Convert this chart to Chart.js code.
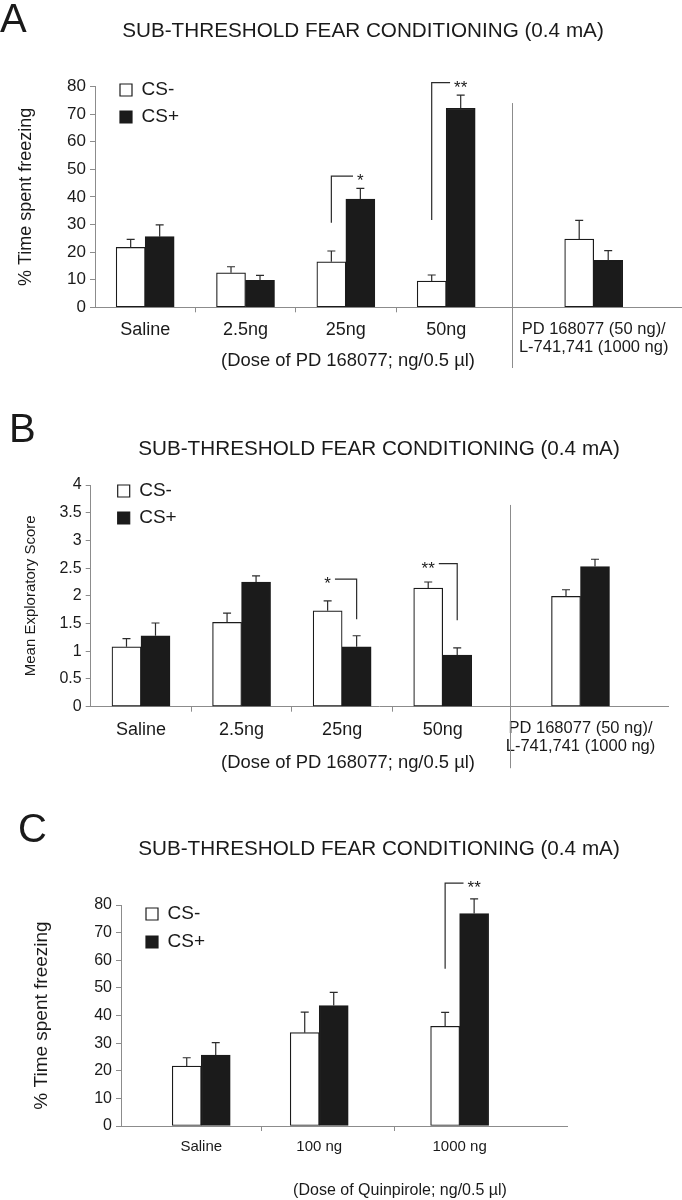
<!DOCTYPE html>
<html>
<head>
<meta charset="utf-8">
<title>Sub-threshold fear conditioning</title>
<script src="https://cdn.jsdelivr.net/npm/chart.js@4.4.1/dist/chart.umd.min.js"></script>
<style>
  html, body { margin: 0; padding: 0; background: #fff; }
  body { width: 682px; height: 1200px; position: relative; overflow: hidden;
         font-family: "Liberation Sans", Arial, Helvetica, sans-serif; color: #1a1a1a; }
  .panel { position: absolute; left: 0; width: 682px; }
  .txt { position: absolute; white-space: nowrap; line-height: 1; }
  .mid { transform: translate(-50%, -50%); }
  .letter { font-size: 40px; }
  .title { font-size: 20.7px; }
</style>
</head>
<body>
<div class="panel" style="top:0; height:385px"><canvas id="chartA"></canvas></div>
<div class="panel" style="top:385px; height:400px"><canvas id="chartB"></canvas></div>
<div class="panel" style="top:785px; height:415px"><canvas id="chartC"></canvas></div>

<div class="txt letter" style="left:0; top:-2px">A</div>
<div class="txt title mid" style="left:363px; top:30px">SUB-THRESHOLD FEAR CONDITIONING (0.4 mA)</div>
<div class="txt mid" style="left:348px; top:360px; font-size:18.4px">(Dose of PD 168077; ng/0.5 µl)</div>

<div class="txt letter" style="left:9px; top:408px">B</div>
<div class="txt title mid" style="left:379px; top:448px">SUB-THRESHOLD FEAR CONDITIONING (0.4 mA)</div>
<div class="txt mid" style="left:348px; top:762px; font-size:18.4px">(Dose of PD 168077; ng/0.5 µl)</div>

<div class="txt letter" style="left:18px; top:808px">C</div>
<div class="txt title mid" style="left:379px; top:848px">SUB-THRESHOLD FEAR CONDITIONING (0.4 mA)</div>
<div class="txt mid" style="left:400px; top:1190px; font-size:16px">(Dose of Quinpirole; ng/0.5 µl)</div>

<script>
// --- data ---
const seriesNames = ["CS-", "CS+"];
const dosesPD = ["Saline", "2.5ng", "25ng", "50ng", ["PD 168077 (50 ng)/", "L-741,741 (1000 ng)"]];
const dosesQuin = ["Saline", "100 ng", "1000 ng"];

// A: % time spent freezing (PD 168077)
const freezePD_minus = [21.7, 12.5, 16.5, 9.5, 24.7];
const freezePD_minusSem = [2.9, 2.2, 3.9, 2.2, 6.8];
const freezePD_plus = [25.6, 9.8, 39.2, 72.1, 17.0];
const freezePD_plusSem = [4.3, 1.8, 3.9, 4.8, 3.5];

// B: mean exploratory score (PD 168077)
const explorePD_minus = [1.08, 1.52, 1.73, 2.14, 1.99];
const explorePD_minusSem = [0.15, 0.17, 0.18, 0.11, 0.12];
const explorePD_plus = [1.28, 2.25, 1.08, 0.93, 2.53];
const explorePD_plusSem = [0.23, 0.11, 0.20, 0.13, 0.13];

// C: % time spent freezing (quinpirole)
const freezeQuin_minus = [21.7, 33.8, 36.1];
const freezeQuin_minusSem = [3.0, 7.4, 5.0];
const freezeQuin_plus = [25.7, 43.6, 76.9];
const freezeQuin_plusSem = [4.5, 4.8, 5.3];

// y tick labels
const freezeTicks = [0, 10, 20, 30, 40, 50, 60, 70, 80];
const exploreTicks = [0, 0.5, 1, 1.5, 2, 2.5, 3, 3.5, 4];

// significance marks (group index, label, bracket bottom / top in axis units)
const sigA = [{ group: 2, text: "*", low: 30.6, high: 47.5 }, { group: 3, text: "**", low: 31.6, high: 81.4 }];
const sigB = [{ group: 2, text: "*", low: 1.58, high: 2.30 }, { group: 3, text: "**", low: 1.56, high: 2.58 }];
const sigC = [{ group: 2, text: "**", low: 56.9, high: 87.9 }];

const FONT = '"Liberation Sans", Arial, Helvetica, sans-serif';
const INK = "#1a1a1a";
const AXIS = "#8c8c8c";

// error bars, brackets, divider, legend placement
function annotations(p) {
  return {
    id: "annotations",
    afterLayout(chart) {
      // vertical legends get top = 0 from Chart.js, so pin it to the plot area
      chart.legend.left = chart.chartArea.left + p.legendShift[0];
      chart.legend.top = chart.chartArea.top + p.legendShift[1];
    },
    afterDatasetsDraw(chart) {
      const { ctx, scales: { x, y } } = chart;
      ctx.save();
      ctx.strokeStyle = "#2b2b2b";
      ctx.lineWidth = 1.2;

      // upper error bars only
      chart.data.datasets.forEach((ds, d) => {
        chart.getDatasetMeta(d).data.forEach((bar, i) => {
          const top = y.getPixelForValue(ds.data[i].y + ds.errors[i]);
          ctx.beginPath();
          ctx.moveTo(bar.x, bar.y);
          ctx.lineTo(bar.x, top);
          ctx.moveTo(bar.x - 4, top);
          ctx.lineTo(bar.x + 4, top);
          ctx.stroke();
        });
      });

      // brackets with stars
      ctx.font = "17px " + FONT;
      ctx.fillStyle = INK;
      ctx.textAlign = "center";
      ctx.textBaseline = "alphabetic";
      p.sig.forEach((s) => {
        const drop = chart.getDatasetMeta(p.dropOn).data[s.group];
        const mark = chart.getDatasetMeta(1 - p.dropOn).data[s.group];
        const yLow = y.getPixelForValue(s.low);
        const yHigh = y.getPixelForValue(s.high);
        const half = ctx.measureText(s.text).width / 2;
        const end = drop.x < mark.x ? mark.x - half - 4 : mark.x + half + 4;
        ctx.beginPath();
        ctx.moveTo(drop.x, yLow);
        ctx.lineTo(drop.x, yHigh);
        ctx.lineTo(end, yHigh);
        ctx.stroke();
        ctx.fillText(s.text, mark.x, yHigh + 10);
      });

      // vertical divider before the combined-treatment group
      if (p.divider) {
        const dx = Math.round(x.getPixelForValue(p.divider.at)) + 0.5;
        ctx.strokeStyle = AXIS;
        ctx.lineWidth = 1;
        ctx.beginPath();
        ctx.moveTo(dx, y.getPixelForValue(p.divider.from));
        ctx.lineTo(dx, y.getPixelForValue(p.divider.to));
        ctx.stroke();
      }
      ctx.restore();
    }
  };
}

function makePanel(id, p) {
  const labelFor = (v) => {
    const i = p.pos.indexOf(v);
    return i >= 0 ? p.groups[i] : "";
  };
  return new Chart(document.getElementById(id), {
    type: "bar",
    data: {
      datasets: seriesNames.map((name, d) => ({
        label: name,
        data: p.values[d].map((v, i) => ({ x: p.pos[i], y: v })),
        errors: p.sems[d],
        backgroundColor: d === 0 ? "#ffffff" : "#1b1b1b",
        borderColor: "#1b1b1b",
        borderWidth: 1.2,
        borderSkipped: false,
        barThickness: 29
      }))
    },
    options: {
      responsive: true,
      maintainAspectRatio: false,
      animation: false,
      layout: { padding: { top: p.padTop, left: 0, right: p.padRight, bottom: 0 } },
      plugins: {
        legend: {
          position: "chartArea",
          align: "start",
          labels: {
            color: INK,
            font: { family: FONT, size: 19 },
            boxWidth: 12,
            boxHeight: 12,
            padding: p.legendGap
          }
        },
        tooltip: { enabled: false }
      },
      scales: {
        x: {
          type: "linear",
          min: p.xMin,
          max: p.xMax,
          offset: false,
          afterBuildTicks: (s) => {
            s.ticks = [...p.pos, ...p.edges].sort((a, b) => a - b).map((v) => ({ value: v }));
          },
          afterFit: (s) => { s.height = p.xAxisHeight; },
          ticks: {
            autoSkip: false,
            maxRotation: 0,
            minRotation: 0,
            padding: 8,
            color: INK,
            font: (c) => ({ family: FONT, size: c.tick && Array.isArray(labelFor(c.tick.value)) ? p.catFont - 1.5 : p.catFont, lineHeight: 1.1 }),
            callback: (v) => labelFor(v)
          },
          grid: {
            offset: false,
            drawOnChartArea: false,
            tickLength: 5,
            color: (c) => (c.tick && p.edges.includes(c.tick.value) ? AXIS : "rgba(0,0,0,0)")
          },
          border: { color: AXIS, width: 1 }
        },
        y: {
          min: p.yTicks[0],
          max: p.yTicks[p.yTicks.length - 1],
          afterBuildTicks: (s) => { s.ticks = p.yTicks.map((v) => ({ value: v })); },
          afterFit: (s) => { s.width = p.yAxisWidth; },
          ticks: { padding: 4, color: INK, font: { family: FONT, size: p.yFont }, callback: (v) => String(v) },
          grid: { drawOnChartArea: false, tickLength: 5, color: AXIS },
          border: { color: AXIS, width: 1 },
          title: {
            display: true,
            text: p.yTitle,
            color: INK,
            font: { family: FONT, size: p.yTitleFont },
            padding: { top: p.yTitlePad, bottom: 0 }
          }
        }
      }
    },
    plugins: [annotations(p)]
  });
}

makePanel("chartA", {
  groups: dosesPD,
  values: [freezePD_minus, freezePD_plus],
  sems: [freezePD_minusSem, freezePD_plusSem],
  yTicks: freezeTicks,
  sig: sigA,
  dropOn: 0,
  pos: [1, 2, 3, 4, 5.47],
  edges: [1.5, 2.5, 3.5],
  xMin: 0.5, xMax: 6.35,
  padTop: 86.5, padRight: 0,
  yAxisWidth: 95, xAxisHeight: 77.7,
  yTitle: "% Time spent freezing", yTitleFont: 18, yTitlePad: 15,
  yFont: 17, catFont: 18,
  legendGap: 8, legendShift: [17, -14],
  divider: { at: 4.66, from: 74, to: -22 }
});

makePanel("chartB", {
  groups: dosesPD,
  values: [explorePD_minus, explorePD_plus],
  sems: [explorePD_minusSem, explorePD_plusSem],
  yTicks: exploreTicks,
  sig: sigB,
  dropOn: 1,
  pos: [1, 2, 3, 4, 5.37],
  edges: [1.5, 2.5, 3.5],
  xMin: 0.5, xMax: 6.24,
  padTop: 100, padRight: 14,
  yAxisWidth: 90.7, xAxisHeight: 78.3,
  yTitle: "Mean Exploratory Score", yTitleFont: 15, yTitlePad: 22,
  yFont: 16, catFont: 18,
  legendGap: 8, legendShift: [19, -11.5],
  divider: { at: 4.67, from: 3.64, to: -1.11 }
});

makePanel("chartC", {
  groups: dosesQuin,
  values: [freezeQuin_minus, freezeQuin_plus],
  sems: [freezeQuin_minusSem, freezeQuin_plusSem],
  yTicks: freezeTicks,
  sig: sigC,
  dropOn: 0,
  pos: [1, 2, 3.19],
  edges: [1.51, 2.64],
  xMin: 0.32, xMax: 4.10,
  padTop: 120, padRight: 115,
  yAxisWidth: 121, xAxisHeight: 74,
  yTitle: "% Time spent freezing", yTitleFont: 19, yTitlePad: 30,
  yFont: 16, catFont: 15,
  legendGap: 9, legendShift: [16, -9.5],
  divider: null
});
</script>
</body>
</html>
